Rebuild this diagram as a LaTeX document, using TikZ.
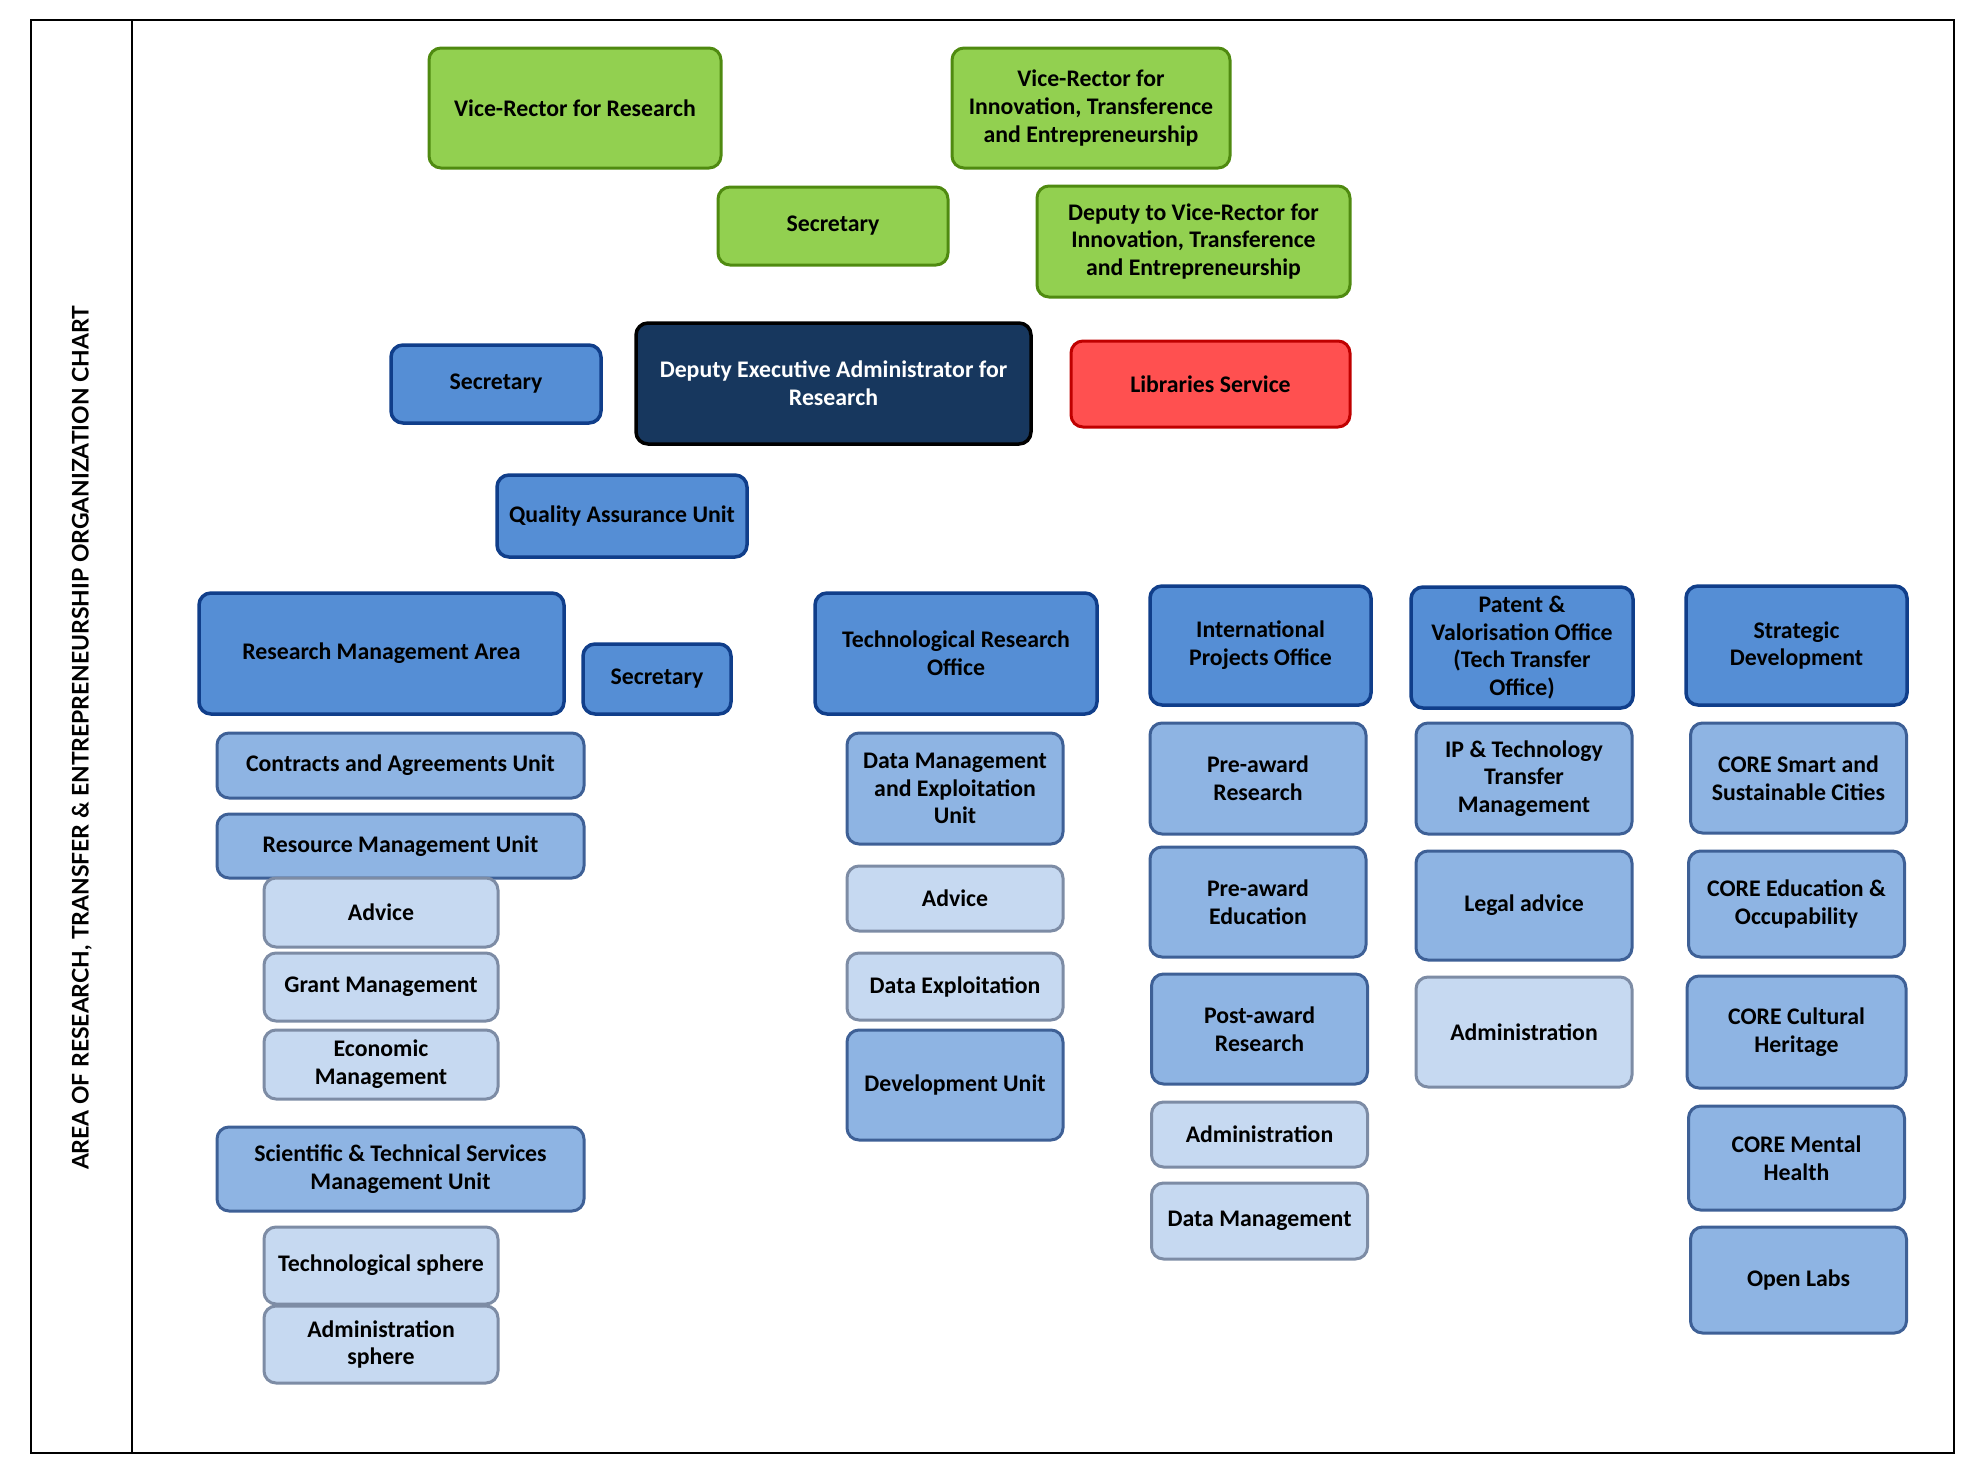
\documentclass[tikz,border=0pt]{standalone}
\usepackage{fontspec}
\setmainfont{Carlito}
\newfontfamily\titlefont{Lato}
\usepackage{tikz}

\definecolor{vrgreen}{RGB}{146,208,80}
\definecolor{vrgreenline}{RGB}{79,138,16}
\definecolor{navy}{RGB}{23,55,94}
\definecolor{libred}{RGB}{255,80,80}
\definecolor{libredline}{RGB}{192,0,0}
\definecolor{unitblue}{RGB}{85,142,213}
\definecolor{unitblueline}{RGB}{16,62,138}
\definecolor{subblue}{RGB}{142,180,227}
\definecolor{subblueline}{RGB}{62,96,150}
\definecolor{paleblue}{RGB}{198,217,241}
\definecolor{paleblueline}{RGB}{125,140,165}

\begin{document}
\begin{tikzpicture}[x=1pt,y=-1pt]
	\tikzset{box/.style = {draw,rounded corners=12pt,align=center,inner sep=0pt,
			font=\bfseries\fontsize{23.8}{27.8}\selectfont,line width=3pt}}
	\tikzset{sz/.style 2 args = {minimum width=#1pt,minimum height=#2pt}}
	\tikzset{greenbox/.style = {box,fill=vrgreen,draw=vrgreenline}}
	\tikzset{headbox/.style = {box,fill=navy,draw=black,text=white,line width=3.5pt}}
	\tikzset{redbox/.style = {box,fill=libred,draw=libredline}}
	\tikzset{unitbox/.style = {box,fill=unitblue,draw=unitblueline,line width=3.5pt}}
	\tikzset{subbox/.style = {box,fill=subblue,draw=subblueline}}
	\tikzset{palebox/.style = {box,fill=paleblue,draw=paleblueline}}

	\useasboundingbox (0,0) rectangle (1979,1467);

	% frame and side title
	\draw[line width=2pt] (31,20) rectangle (1954,1453);
	\draw[line width=2pt] (132,20) -- (132,1453);
	\node[rotate=90,font=\titlefont\bfseries\fontsize{22.9}{27}\selectfont] (0) at (82,738)
		{AREA OF RESEARCH, TRANSFER \& ENTREPRENEURSHIP ORGANIZATION CHART};

	% top level
	\node[greenbox,sz={292}{120}] (1) at (575,108) {Vice-Rector for Research};
	\node[greenbox,sz={278}{120}] (2) at (1091,108) {Vice-Rector for\\Innovation, Transference\\and Entrepreneurship};
	\node[greenbox,sz={230}{78}] (3) at (833,226) {Secretary};
	\node[greenbox,sz={313}{111}] (4) at (1193.5,241.5) {Deputy to Vice-Rector for\\Innovation, Transference\\and Entrepreneurship};
	\node[unitbox,sz={210}{78}] (5) at (496,384) {Secretary};
	\node[headbox,sz={395}{121}] (6) at (833.5,383.5) {Deputy Executive Administrator for\\Research};
	\node[redbox,sz={279}{86}] (7) at (1210.5,384) {Libraries Service};
	\node[unitbox,sz={250}{82}] (8) at (622,516) {Quality Assurance Unit};

	% offices
	\node[unitbox,sz={365}{121}] (9) at (381.5,653.5) {Research Management Area};
	\node[unitbox,sz={148}{70}] (10) at (657,679) {Secretary};
	\node[unitbox,sz={282}{121}] (11) at (956,653.5) {Technological Research\\Office};
	\node[unitbox,sz={221}{119}] (12) at (1260.5,645.5) {International\\Projects Office};
	\node[unitbox,sz={222}{121}] (13) at (1522,647.5) {Patent \&\\Valorisation Office\\(Tech Transfer\\Office)};
	\node[unitbox,sz={221}{119}] (14) at (1796.5,645.5) {Strategic\\Development};

	% research management area
	\node[subbox,sz={367}{65}] (15) at (400.5,765.5) {Contracts and Agreements Unit};
	\node[subbox,sz={367}{64}] (16) at (400.5,846) {Resource Management Unit};
	\node[palebox,sz={234}{69}] (17) at (381,912.5) {Advice};
	\node[palebox,sz={234}{68}] (18) at (381,987) {Grant Management};
	\node[palebox,sz={234}{69}] (19) at (381,1064.5) {Economic\\Management};
	\node[subbox,sz={367}{84}] (20) at (400.5,1169) {Scientific \& Technical Services\\Management Unit};
	\node[palebox,sz={234}{77}] (21) at (381,1265.5) {Technological sphere};
	\node[palebox,sz={234}{77}] (22) at (381,1344.5) {Administration\\sphere};

	% technological research office
	\node[subbox,sz={216}{111}] (23) at (955,788.5) {Data Management\\and Exploitation\\Unit};
	\node[palebox,sz={216}{65}] (24) at (955,898.5) {Advice};
	\node[palebox,sz={216}{67}] (25) at (955,986.5) {Data Exploitation};
	\node[subbox,sz={216}{110}] (26) at (955,1085) {Development Unit};

	% international projects office
	\node[subbox,sz={216}{111}] (27) at (1258,778.5) {Pre-award\\Research};
	\node[subbox,sz={216}{110}] (28) at (1258,902) {Pre-award\\Education};
	\node[subbox,sz={216}{110}] (29) at (1259.5,1029) {Post-award\\Research};
	\node[palebox,sz={216}{65}] (30) at (1259.5,1134.5) {Administration};
	\node[palebox,sz={216}{76}] (31) at (1259.5,1221) {Data Management};

	% patent and valorisation office
	\node[subbox,sz={216}{111}] (32) at (1524,778.5) {IP \& Technology\\Transfer\\Management};
	\node[subbox,sz={216}{109}] (33) at (1524,905.5) {Legal advice};
	\node[palebox,sz={216}{110}] (34) at (1524,1032) {Administration};

	% strategic development
	\node[subbox,sz={216}{110}] (35) at (1798.5,778) {CORE Smart and\\Sustainable Cities};
	\node[subbox,sz={216}{106}] (36) at (1796.5,904) {CORE Education \&\\Occupability};
	\node[subbox,sz={219}{112}] (37) at (1796.5,1032) {CORE Cultural\\Heritage};
	\node[subbox,sz={216}{104}] (38) at (1796.5,1158) {CORE Mental\\Health};
	\node[subbox,sz={216}{106}] (39) at (1798.5,1280) {Open Labs};
\end{tikzpicture}
\end{document}
